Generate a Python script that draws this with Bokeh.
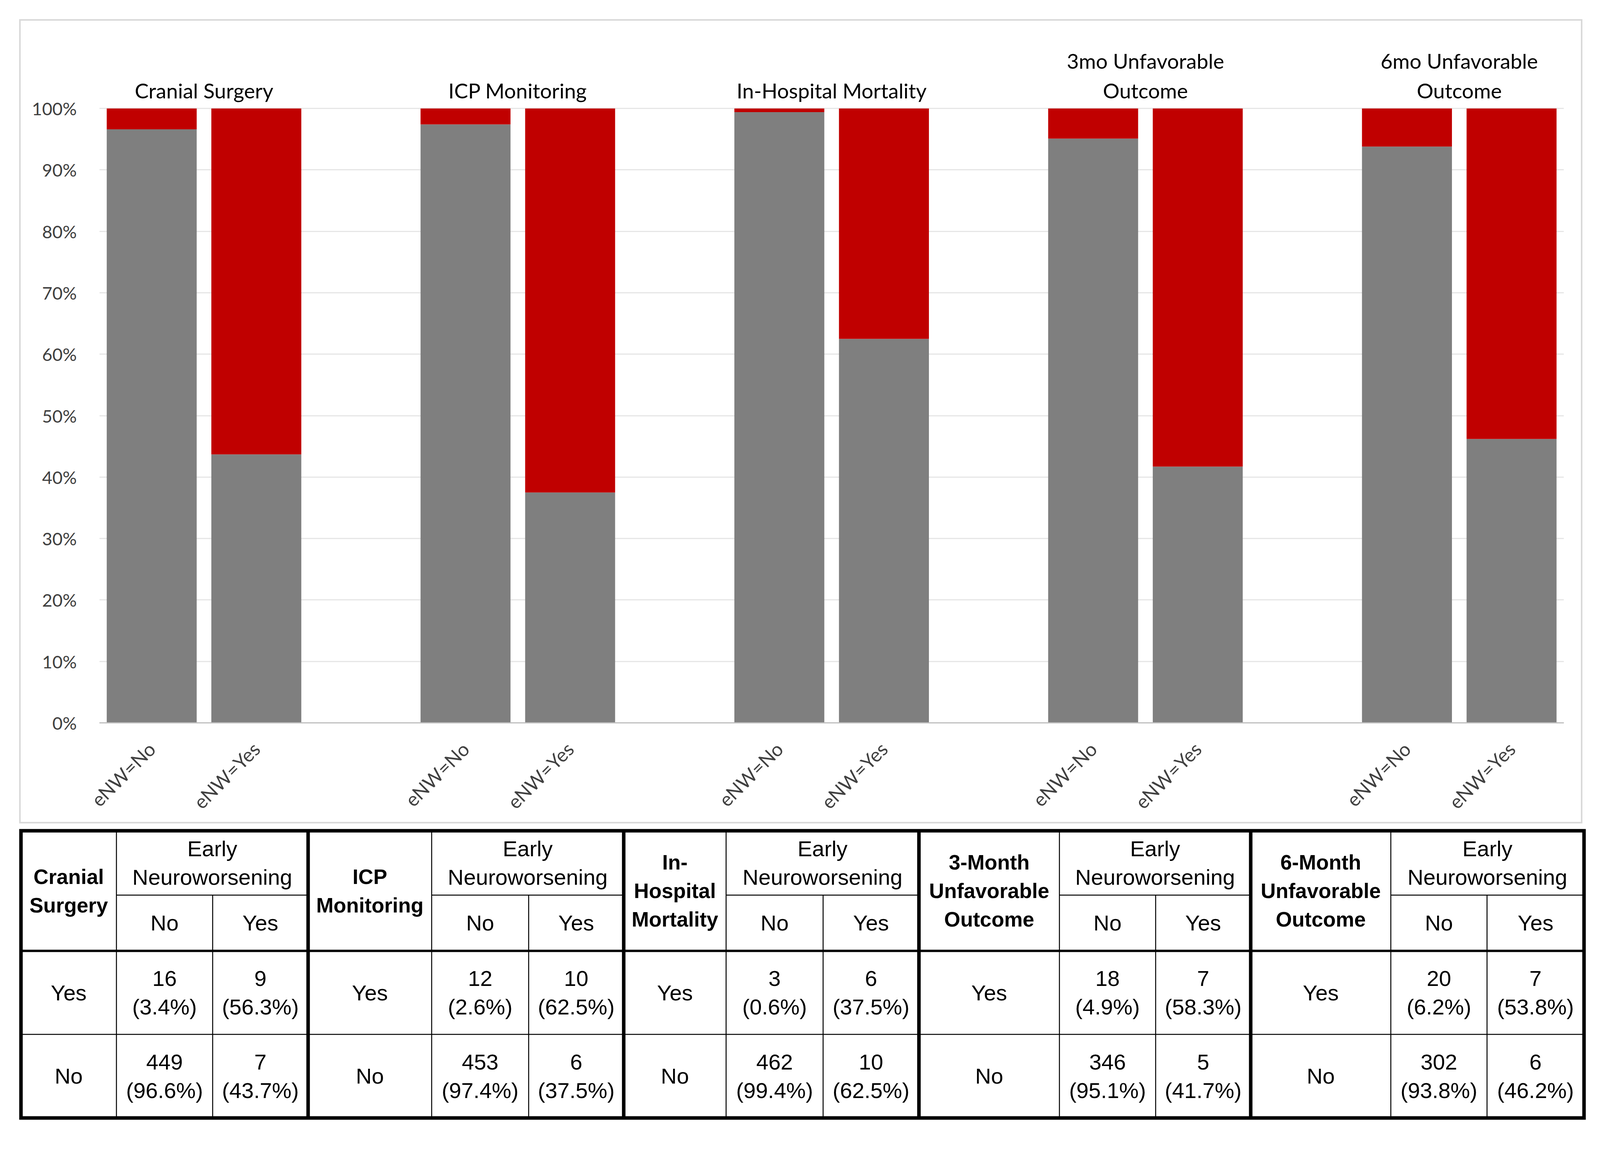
import math
from bokeh.plotting import figure
from bokeh.models import Range1d, FixedTicker, NumeralTickFormatter
from bokeh.embed import file_html
from bokeh.resources import INLINE
from bokeh.core.properties import value

# ---------------- data ----------------
chart_titles = ["Cranial Surgery", "ICP Monitoring", "In-Hospital Mortality",
                "3mo Unfavorable\nOutcome", "6mo Unfavorable\nOutcome"]
table_titles = ["Cranial\nSurgery", "ICP\nMonitoring", "In-\nHospital\nMortality",
                "3-Month\nUnfavorable\nOutcome", "6-Month\nUnfavorable\nOutcome"]
enw_labels = ["eNW=No", "eNW=Yes"]
enw_header = "Early\nNeuroworsening"
sub_headers = ["No", "Yes"]
row_labels = ["Yes", "No"]

# outcome = Yes counts / percents
yes_n_enw_no = [16, 12, 3, 18, 20]
yes_n_enw_yes = [9, 10, 6, 7, 7]
yes_pct_enw_no = [3.4, 2.6, 0.6, 4.9, 6.2]
yes_pct_enw_yes = [56.3, 62.5, 37.5, 58.3, 53.8]
# outcome = No counts / percents
no_n_enw_no = [449, 453, 462, 346, 302]
no_n_enw_yes = [7, 6, 10, 5, 6]
no_pct_enw_no = [96.6, 97.4, 99.4, 95.1, 93.8]
no_pct_enw_yes = [43.7, 37.5, 62.5, 41.7, 46.2]

y_ticks = [0.0, 0.1, 0.2, 0.3, 0.4, 0.5, 0.6, 0.7, 0.8, 0.9, 1.0]

# layout scale: picture pixels -> CSS pixels
S = 4096.0 / 4157.0


def s(v):
    return v * S


def fpx(v):
    return f"{v * S:.1f}px"


# ---------------- chart (inside a light grey box) ----------------
C0 = 53                     # CSS x/y of the chart canvas (inside the 4px border)
W1 = 3994
H1 = 2051
FRAME_L = 201
FRAME_R_BORDER = 52
FRAME_BOTTOM = 1789
FRAME_H = 1744
PX_PER_UNIT = s(1589.0)
p = figure(width=W1, height=H1,
           output_backend="svg", toolbar_location=None,
           x_range=Range1d(0, 14), y_range=Range1d(0, FRAME_H / PX_PER_UNIT),
           min_border_left=FRAME_L, min_border_right=FRAME_R_BORDER,
           min_border_top=FRAME_BOTTOM - FRAME_H, min_border_bottom=H1 - FRAME_BOTTOM,
           margin=(C0 - 4, 0, 0, C0 - 4))
p.title.visible = False
p.outline_line_color = None
p.background_fill_color = "white"
p.border_fill_color = "white"
p.styles = {"border": "4px solid #d9d9d9", "box-sizing": "content-box"}

xs, gray_top, red_top, xlabels = [], [], [], {}
for g in range(5):
    for k in range(2):
        x = 0.5 + 3 * g + k
        xs.append(x)
        gv = (no_pct_enw_no if k == 0 else no_pct_enw_yes)[g] / 100.0
        rv = (yes_pct_enw_no if k == 0 else yes_pct_enw_yes)[g] / 100.0
        gray_top.append(gv)
        red_top.append(gv + rv)
        xlabels[x] = enw_labels[k]

p.vbar(x=xs, width=0.86, bottom=0, top=gray_top, fill_color="#7f7f7f", line_color=None)
p.vbar(x=xs, width=0.86, bottom=gray_top, top=red_top, fill_color="#c00000", line_color=None)

# group titles (last line ~1636 picture px above the 0% line, 77px line step)
tx, ty, tt = [], [], []
for g, title in enumerate(chart_titles):
    lines = title.split("\n")
    n = len(lines)
    for i, ln in enumerate(lines):
        tx.append(1.0 + 3 * g)
        ty.append((1636 + ((n - 1) - i) * 77) / 1589.0)
        tt.append(ln)
p.text(x=tx, y=ty, text=tt, text_align="center", text_baseline="alphabetic",
       text_font=value("Lato"), text_font_size=fpx(54), text_color="black")

p.xaxis.ticker = FixedTicker(ticks=xs)
p.xaxis.major_label_overrides = xlabels
p.xaxis.major_label_orientation = math.pi / 4
p.xaxis.major_label_text_font = "Lato"
p.xaxis.major_label_text_font_size = fpx(50)
p.xaxis.major_label_text_color = "#404040"
p.xaxis.major_label_standoff = 52
p.xaxis.major_tick_line_color = None
p.xaxis.minor_tick_line_color = None
p.xaxis.axis_line_color = "#bfbfbf"
p.xaxis.axis_line_width = 3

p.yaxis.ticker = FixedTicker(ticks=y_ticks)
p.yaxis.formatter = NumeralTickFormatter(format="0%")
p.yaxis.major_label_text_font = "Lato"
p.yaxis.major_label_text_font_size = fpx(46)
p.yaxis.major_label_text_color = "#404040"
p.yaxis.major_label_standoff = 52
p.yaxis.axis_line_color = None
p.yaxis.major_tick_line_color = None
p.yaxis.minor_tick_line_color = None

p.xgrid.visible = False
p.ygrid.ticker = FixedTicker(ticks=y_ticks)
p.ygrid.grid_line_color = "#e6e6e6"
p.ygrid.grid_line_width = 3

# ---------------- table ----------------
X0 = 8             # CSS x of the table canvas
T0 = 2116          # CSS y of the table canvas top
W2 = 4080
H2 = 760
t = figure(width=W2, height=H2,
           output_backend="svg", toolbar_location=None,
           x_range=Range1d(0, W2), y_range=Range1d(H2, 0), min_border=0,
           x_axis_location=None, y_axis_location=None,
           margin=(T0 - (C0 + H1 + 4), 0, 0, X0))
t.title.visible = False
t.grid.visible = False
t.outline_line_color = None
t.border_fill_color = "white"

# cell edges in picture pixels
col_edges = [54, 302, 552, 800, 1121, 1373, 1620, 1886, 2138, 2387,
             2752, 3002, 3249, 3613, 3863, 4115]
row_edges = [2158, 2325, 2470, 2687, 2904]
ce = [s(c) - X0 for c in col_edges]
y_top, y_mid, y_hb, y_rd, y_bot = [s(v) - T0 for v in row_edges]

# thin lines
sx0, sy0, sx1, sy1 = [], [], [], []
for g in range(5):
    a, b, c, d = ce[3 * g], ce[3 * g + 1], ce[3 * g + 2], ce[3 * g + 3]
    sx0 += [b, c, b]; sy0 += [y_top, y_mid, y_mid]
    sx1 += [b, c, d]; sy1 += [y_bot, y_bot, y_mid]
sx0.append(ce[0]); sy0.append(y_rd); sx1.append(ce[-1]); sy1.append(y_rd)
t.segment(x0=sx0, y0=sy0, x1=sx1, y1=sy1, line_color="black", line_width=2.5)
# header bottom
t.segment(x0=[ce[0]], y0=[y_hb], x1=[ce[-1]], y1=[y_hb], line_color="black", line_width=6)
# group separators
gx = [ce[3], ce[6], ce[9], ce[12]]
t.segment(x0=gx, y0=[y_top] * 4, x1=gx, y1=[y_bot] * 4, line_color="black", line_width=9)
# outer border
t.quad(left=[ce[0]], right=[ce[-1]], top=[y_top], bottom=[y_bot], fill_color=None,
       line_color="black", line_width=9, line_join="miter")

reg_x, reg_y, reg_t = [], [], []
bold_x, bold_y, bold_t = [], [], []


def put(cx, cy, txt, bold=False):
    lines = txt.split("\n")
    n = len(lines)
    for i, ln in enumerate(lines):
        yy = cy + (i - (n - 1) / 2.0) * s(74)
        if bold:
            bold_x.append(cx); bold_y.append(yy); bold_t.append(ln)
        else:
            reg_x.append(cx); reg_y.append(yy); reg_t.append(ln)


row_c = [(y_hb + y_rd) / 2.0, (y_rd + y_bot) / 2.0]
for g in range(5):
    a, b, c, d = ce[3 * g], ce[3 * g + 1], ce[3 * g + 2], ce[3 * g + 3]
    put((a + b) / 2.0, (y_top + y_hb) / 2.0, table_titles[g], bold=True)
    put((b + d) / 2.0, (y_top + y_mid) / 2.0, enw_header)
    put((b + c) / 2.0, (y_mid + y_hb) / 2.0, sub_headers[0])
    put((c + d) / 2.0, (y_mid + y_hb) / 2.0, sub_headers[1])
    put((a + b) / 2.0, row_c[0], row_labels[0])
    put((a + b) / 2.0, row_c[1], row_labels[1])
    put((b + c) / 2.0, row_c[0], f"{yes_n_enw_no[g]}\n({yes_pct_enw_no[g]}%)")
    put((c + d) / 2.0, row_c[0], f"{yes_n_enw_yes[g]}\n({yes_pct_enw_yes[g]}%)")
    put((b + c) / 2.0, row_c[1], f"{no_n_enw_no[g]}\n({no_pct_enw_no[g]}%)")
    put((c + d) / 2.0, row_c[1], f"{no_n_enw_yes[g]}\n({no_pct_enw_yes[g]}%)")

t.text(x=reg_x, y=reg_y, text=reg_t, text_align="center", text_baseline="alphabetic",
       text_font=value("Liberation Sans"), text_font_size=fpx(57), text_color="black")
t.text(x=bold_x, y=bold_y, text=bold_t, text_align="center", text_baseline="alphabetic",
       text_font=value("Liberation Sans"), text_font_size=fpx(54), text_font_style="bold",
       text_color="black")

open("out.html", "w").write(file_html([p, t], INLINE, "chart"))
